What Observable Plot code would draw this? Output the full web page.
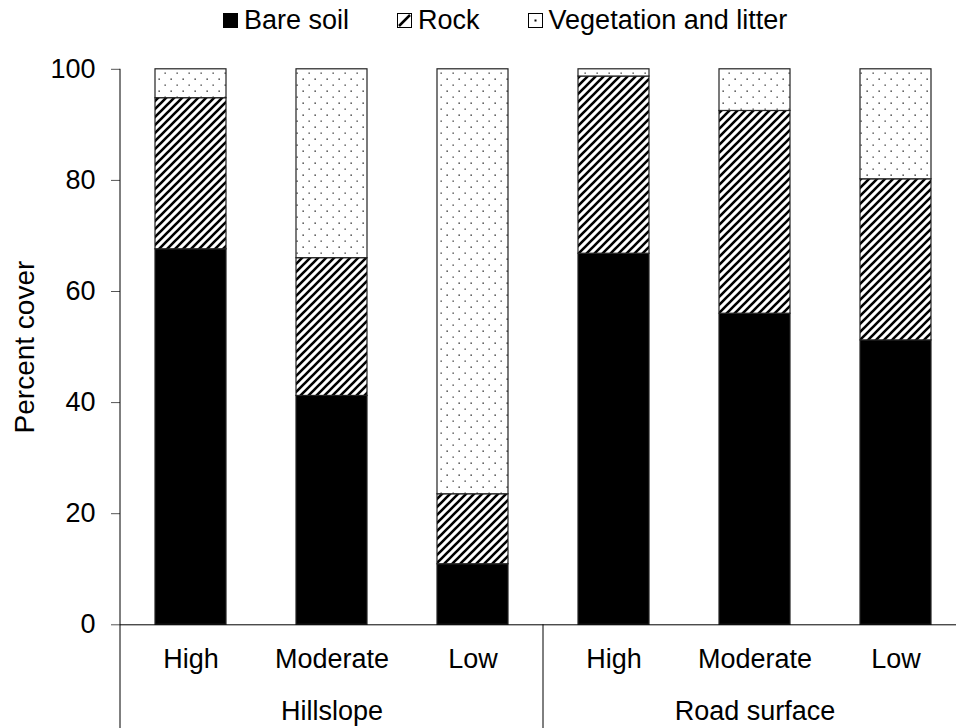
<!DOCTYPE html>
<html>
<head>
<meta charset="utf-8">
<script src="https://cdn.jsdelivr.net/npm/d3@7"></script>
<script src="https://cdn.jsdelivr.net/npm/@observablehq/plot@0.6"></script>
<style>
  body { margin: 0; background: #fff; font-family: "Liberation Sans", Arial, sans-serif; color: #000; }
  #legend { height: 40px; display: flex; align-items: center; padding-left: 223px; box-sizing: border-box; font-size: 27px; }
  .item { display: flex; align-items: center; margin-right: 48px; }
  .item svg { margin-right: 6px; }
  #defs { position: absolute; width: 0; height: 0; }
</style>
</head>
<body>
<svg id="defs" width="0" height="0">
  <defs>
    <pattern id="hatch" patternUnits="userSpaceOnUse" width="8" height="8">
      <rect width="8" height="8" fill="#fff"/>
      <path d="M-2,2 L2,-2 M0,8 L8,0 M6,10 L10,6" stroke="#000" stroke-width="2.6"/>
    </pattern>
    <pattern id="dots" patternUnits="userSpaceOnUse" width="12" height="12">
      <rect width="12" height="12" fill="#fff"/>
      <rect x="2.5" y="2.5" width="1.3" height="1.3" fill="#111"/>
      <rect x="8.5" y="8.5" width="1.3" height="1.3" fill="#333"/>
    </pattern>
  </defs>
</svg>
<div id="legend"></div>
<div id="chart"></div>
<script>
// ---- data ----
const groups = ["Hillslope", "Road surface"];
const categories = ["High", "Moderate", "Low"];
const series = ["Bare soil", "Rock", "Vegetation and litter"];
const bareSoil   = [67.6, 41.2, 10.9, 66.8, 56.0, 51.2];
const rock       = [27.2, 24.8, 12.6, 31.9, 36.5, 29.0];
const vegetation = [5.2, 34.0, 76.5, 1.3, 7.5, 19.8];
const yTicks = [0, 20, 40, 60, 80, 100];

const seriesValues = {"Bare soil": bareSoil, "Rock": rock, "Vegetation and litter": vegetation};
const keys = groups.flatMap(g => categories.map(c => g + "|" + c));
const data = series.flatMap(s => keys.map((k, i) => ({key: k, series: s, value: seriesValues[s][i]})));
const fills = ["#000", "url(#hatch)", "url(#dots)"];

// ---- legend ----
const legend = d3.select("#legend");
series.forEach((s, i) => {
  const item = legend.append("div").attr("class", "item");
  const sw = item.append("svg").attr("width", 15).attr("height", 15);
  sw.append("rect").attr("x", 0.5).attr("y", 0.5).attr("width", 14).attr("height", 14)
    .attr("fill", i === 0 ? "#000" : "#fff").attr("stroke", "#000").attr("stroke-width", 1);
  if (i === 1) sw.append("path").attr("d", "M2,13 L13,2").attr("stroke", "#000").attr("stroke-width", 2.5);
  if (i === 2) sw.append("rect").attr("x", 6.5).attr("y", 6.5).attr("width", 2).attr("height", 2).attr("fill", "#000");
  item.append("span").text(s);
});

// ---- chart ----
const font = '"Liberation Sans", Arial, sans-serif';
const chart = Plot.plot({
  width: 956,
  height: 688,
  marginLeft: 120,
  marginRight: 0,
  marginTop: 28.8,
  marginBottom: 103.7,
  style: {fontFamily: font, fontSize: "27px", color: "#000", background: "#fff", overflow: "visible"},
  x: {domain: keys, range: [120, 966], paddingInner: 0.5, paddingOuter: 0.25, label: null},
  y: {domain: [0, 100], ticks: yTicks, label: null},
  color: {type: "ordinal", domain: series, range: fills},
  marks: [
    Plot.barY(data, {x: "key", y: "value", fill: "series", stroke: "#222", strokeWidth: 1.2, insetLeft: 0, insetRight: 0}),
    Plot.ruleY([0], {stroke: "#000", strokeWidth: 1}),
    Plot.axisY({ticks: yTicks, tickSize: 9, tickPadding: 16, fontSize: 27, label: null, stroke: "#555"}),
    Plot.axisX({tickSize: 0, tickPadding: 24, fontSize: 27, label: null, tickFormat: k => k.split("|")[1]}),
    Plot.text(groups, {x: g => g + "|" + categories[1], text: d => d, frameAnchor: "bottom", dy: 95, lineAnchor: "bottom", fontSize: 27}),
    Plot.text(["Percent cover"], {text: d => d, frameAnchor: "left", rotate: -90, dx: -106, textAnchor: "middle", lineAnchor: "top", fontSize: 28})
  ]
});
document.getElementById("chart").appendChild(chart);

// separators and y-axis line derived from the scales
const xs = chart.scale("x"), ys = chart.scale("y");
const svg = d3.select(chart);
const half = (xs.step - xs.bandwidth) / 2;
const H = +svg.attr("height") || 688;
const lines = svg.append("g").attr("stroke", "#000").attr("stroke-width", 1);
lines.append("line")
  .attr("x1", xs.range[0]).attr("x2", xs.range[0])
  .attr("y1", ys.apply(100)).attr("y2", H);
groups.forEach((g, j) => {
  const first = g + "|" + categories[0];
  const x0 = xs.apply(first) - half;
  if (j > 0) lines.append("line").attr("x1", x0).attr("x2", x0).attr("y1", ys.apply(0)).attr("y2", H);
});
</script>
</body>
</html>
